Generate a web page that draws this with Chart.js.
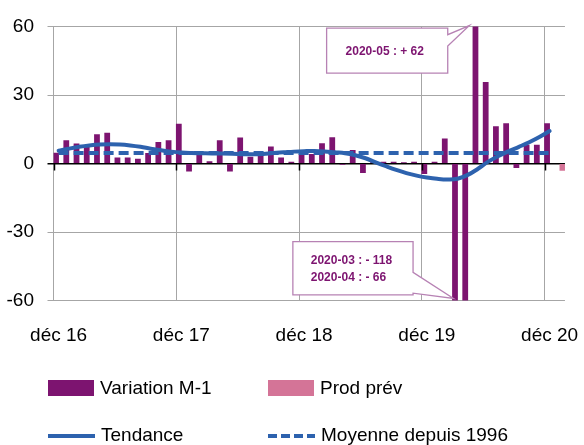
<!DOCTYPE html>
<html>
<head>
<meta charset="utf-8">
<script src="https://cdn.jsdelivr.net/npm/chart.js@4/dist/chart.umd.min.js"></script>
<style>
html,body{margin:0;padding:0;background:#fff;}
#wrap{position:relative;width:584px;height:445px;overflow:hidden;}
#legend{position:absolute;left:0;top:0;width:584px;height:445px;pointer-events:none;
  font-family:'Liberation Sans',Arial,sans-serif;font-size:19px;color:#000;}
.item{position:absolute;display:flex;align-items:center;height:24px;white-space:nowrap;}
.sw{display:inline-block;margin-right:6px;}
</style>
</head>
<body>
<div id="wrap">
<canvas id="c" width="584" height="445"></canvas>
<div id="legend"></div>
</div>
<script>
// ---------- data ----------
const categories = [
 'déc 16',
 'janv 17','févr 17','mars 17','avr 17','mai 17','juin 17','juil 17','août 17','sept 17','oct 17','nov 17','déc 17',
 'janv 18','févr 18','mars 18','avr 18','mai 18','juin 18','juil 18','août 18','sept 18','oct 18','nov 18','déc 18',
 'janv 19','févr 19','mars 19','avr 19','mai 19','juin 19','juil 19','août 19','sept 19','oct 19','nov 19','déc 19',
 'janv 20','févr 20','mars 20','avr 20','mai 20','juin 20','juil 20','août 20','sept 20','oct 20','nov 20','déc 20',
 'janv 21'
];
const shownTickLabels = ['déc 16','déc 17','déc 18','déc 19','déc 20'];
const variationM1 = [
 4.6,
 10, 8.6, 8, 12.7, 13.3, 2.5, 2.5, 1.9, 4.5, 9.3, 10, 17.3,
 -3.4, 5, 0.8, 10, -3.4, 11.2, 2.8, 4, 7.3, 2.5, 0.6, 4,
 4, 8.7, 11.3, -0.4, 5.8, -4, 0.7, 0.6, 0.6, 0.4, 0.6, -4.5,
 0.6, 10.8, -118, -66, 62, 35.6, 16.2, 17.5, -1.8, 8.1, 8.1, 17.5,
 null
];
const prodPrev = [
 null,
 null,null,null,null,null,null,null,null,null,null,null,null,
 null,null,null,null,null,null,null,null,null,null,null,null,
 null,null,null,null,null,null,null,null,null,null,null,null,
 null,null,null,null,null,null,null,null,null,null,null,null,
 -3
];
const tendance = [
 5.6,
 6.5, 7.3, 7.9, 8.3, 8.4, 8.3, 7.9, 7.3, 6.5, 5.8, 5.2, 4.8,
 4.6, 4.5, 4.4, 4.4, 4.3, 4.1, 4.0, 4.2, 4.6, 4.9, 5.2, 5.4,
 5.5, 5.3, 4.9, 4.5, 3.6, 2.3, 0.5, -1.2, -2.8, -4.2, -5.3, -6.1,
 -6.7, -7.0, -6.7, -5.0, -2.3, 0.8, 3.3, 5.4, 7.3, 9.3, 11.6, 14.2,
 null
];
const moyenne1996 = [
 4.6,
 4.6,4.6,4.6,4.6,4.6,4.6,4.6,4.6,4.6,4.6,4.6,4.6,
 4.6,4.6,4.6,4.6,4.6,4.6,4.6,4.6,4.6,4.6,4.6,4.6,
 4.6,4.6,4.6,4.6,4.6,4.6,4.6,4.6,4.6,4.6,4.6,4.6,
 4.6,4.6,4.6,4.6,4.6,4.6,4.6,4.6,4.6,4.6,4.6,4.6,
 null
];
const calloutTexts = [['2020-05 : + 62'], ['2020-03 : - 118', '2020-04 : - 66']];

// ---------- styles ----------
const FONT = "'Liberation Sans', Arial, sans-serif";
const PURPLE = '#7d1470';
const PINK = '#d47497';
const BLUE = '#2d62ae';
const GRID = '#a6a6a6';
const CALLOUT_BORDER = '#b782b4';

// callout geometry in data coordinates (x = category index, y = value)
const callouts = [
 {box:[26.2, 38.04, 59.3, 39.6], tail:[[38.04,56.4],[40.15,60.4],[38.04,51.5]],
  text: calloutTexts[0], anchors:[[31.88,48.9]], align:'center'},
 {box:[22.9, 34.65, -34.2, -57.5], tail:[[34.65,-47.7],[38.6,-59.1],[34.65,-56.8]],
  text: calloutTexts[1], anchors:[[24.65,-42.6],[24.65,-50.0]], align:'left'}
];

const zeroTicksPlugin = {
  id:'zeroTicks',
  afterDatasetsDraw(chart){
    const {ctx, scales:{x,y}} = chart;
    const y0 = y.getPixelForValue(0);
    ctx.save();
    ctx.strokeStyle = '#000';
    ctx.lineWidth = 1.5;
    categories.forEach((c,i)=>{
      if (!shownTickLabels.includes(c)) return;
      const px = Math.round(x.getPixelForValue(i - 0.5)) + 0.5;
      ctx.beginPath(); ctx.moveTo(px, y0); ctx.lineTo(px, y0 + 7); ctx.stroke();
    });
    ctx.restore();
  }
};

const calloutPlugin = {
  id:'callouts',
  afterDatasetsDraw(chart){
    const {ctx, scales:{x,y}} = chart;
    const X = v => x.getPixelForValue(v), Y = v => y.getPixelForValue(v);
    ctx.save();
    callouts.forEach(c=>{
      const [l,r,t,b] = c.box;
      const L=X(l), R=X(r), T=Y(t), B=Y(b);
      const tl = c.tail.map(p=>[X(p[0]),Y(p[1])]);
      ctx.beginPath();
      ctx.moveTo(L,T); ctx.lineTo(R,T);
      ctx.lineTo(tl[0][0], tl[0][1]);
      ctx.lineTo(tl[1][0], tl[1][1]);
      ctx.lineTo(tl[2][0], tl[2][1]);
      ctx.lineTo(R,B); ctx.lineTo(L,B); ctx.closePath();
      ctx.fillStyle = '#fff'; ctx.fill();
      ctx.strokeStyle = CALLOUT_BORDER; ctx.lineWidth = 1.3; ctx.stroke();
      ctx.fillStyle = PURPLE;
      ctx.font = 'bold 12px ' + FONT;
      ctx.textAlign = c.align; ctx.textBaseline = 'middle';
      c.text.forEach((s,i)=>{ ctx.fillText(s, X(c.anchors[i][0]), Y(c.anchors[i][1])); });
    });
    ctx.restore();
  }
};

const chart = new Chart(document.getElementById('c'), {
  data:{
    labels: categories,
    datasets:[
      {type:'line', label:'Tendance', data:tendance, borderColor:BLUE, backgroundColor:BLUE,
       borderWidth:4, pointRadius:0, tension:0.4, order:0, borderCapStyle:'round'},
      {type:'line', label:'Moyenne depuis 1996', data:moyenne1996, borderColor:BLUE, backgroundColor:BLUE,
       borderWidth:4, borderDash:[10,5], pointRadius:0, order:1},
      {type:'bar', label:'Variation M-1', data:variationM1, backgroundColor:PURPLE,
       categoryPercentage:1, barPercentage:1, order:2},
      {type:'bar', label:'Prod prév', data:prodPrev, backgroundColor:PINK,
       categoryPercentage:1, barPercentage:1, order:3}
    ]
  },
  options:{
    responsive:false, animation:false, devicePixelRatio:1,
    layout:{padding:{top:26.5, right:15, left:0, bottom:0}},
    plugins:{legend:{display:false}, tooltip:{enabled:false}},
    scales:{
      x:{
        type:'category', offset:true,
        grid:{offset:true, drawTicks:false, lineWidth:1,
          color: ctx => (ctx.type==='tick' && shownTickLabels.includes(categories[ctx.index])) ? GRID : 'rgba(0,0,0,0)'},
        border:{display:false},
        ticks:{autoSkip:false, maxRotation:0, minRotation:0, padding:24, color:'#000',
          font:{family:FONT, size:19},
          callback:(v,i)=> shownTickLabels.includes(categories[i]) ? categories[i] : ''},
        afterFit: s => { s.height = 144.5; }
      },
      y:{
        min:-60, max:60,
        ticks:{stepSize:30, padding:13.5, color:'#000', font:{family:FONT, size:19}},
        grid:{tickLength:6,
          color: ctx => (ctx.tick && ctx.tick.value===0) ? '#000' : GRID,
          lineWidth: ctx => (ctx.tick && ctx.tick.value===0) ? 1.5 : 1},
        border:{display:false},
        afterFit: s => { s.width = 53.5; }
      }
    }
  },
  plugins:[zeroTicksPlugin, calloutPlugin]
});

// ---------- HTML legend built from the chart's datasets ----------
const legendOrder = ['Variation M-1','Prod prév','Tendance','Moyenne depuis 1996'];
const legendSlots = [[48,376],[268,376],[48,423],[268,423]];
const legendEl = document.getElementById('legend');
legendOrder.forEach((name, k)=>{
  const ds = chart.data.datasets.find(d=>d.label===name);
  const item = document.createElement('div');
  item.className = 'item';
  item.style.left = legendSlots[k][0] + 'px';
  item.style.top = legendSlots[k][1] + 'px';
  let sw;
  if (ds.type === 'bar') {
    sw = document.createElement('span');
    sw.className = 'sw';
    sw.style.width = '46px'; sw.style.height = '16px';
    sw.style.background = ds.backgroundColor;
  } else {
    sw = document.createElementNS('http://www.w3.org/2000/svg','svg');
    sw.setAttribute('width','47'); sw.setAttribute('height','16');
    sw.setAttribute('class','sw');
    const ln = document.createElementNS('http://www.w3.org/2000/svg','line');
    ln.setAttribute('x1','0'); ln.setAttribute('x2','47');
    ln.setAttribute('y1','9'); ln.setAttribute('y2','9');
    ln.setAttribute('stroke', ds.borderColor);
    ln.setAttribute('stroke-width','4');
    if (ds.borderDash) ln.setAttribute('stroke-dasharray','9 4');
    sw.appendChild(ln);
  }
  item.appendChild(sw);
  const tx = document.createElement('span');
  tx.textContent = ds.label;
  item.appendChild(tx);
  legendEl.appendChild(item);
});
</script>
</body>
</html>
